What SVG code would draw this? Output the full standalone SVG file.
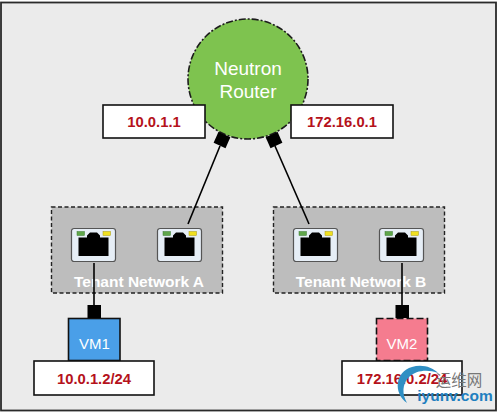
<svg xmlns="http://www.w3.org/2000/svg" width="498" height="412" viewBox="0 0 498 412">
<style>
text{font-family:"Liberation Sans",Arial,sans-serif;text-anchor:middle}
.lb{fill:#fff;stroke:#111;stroke-width:1.6}
.ip{fill:#b5121b;font-size:14.8px;font-weight:700}
.wt{fill:#fff}
.net{fill:#bdbdbd;stroke:#222;stroke-width:1.4;stroke-dasharray:4 2.5}
.conn{stroke:#000;stroke-width:1.6;fill:none}
.jack{fill:#000}
</style>
<defs>
<g id="port">
<rect x="0.5" y="0.5" width="44" height="33" rx="2.5" fill="#e6eef6" stroke="#555" stroke-width="1.2"/>
<rect x="6" y="3.500" width="7.500" height="4" fill="#5fa64a" stroke="#3d7a33" stroke-width=".5"/>
<rect x="32" y="3.500" width="7.500" height="4" fill="#f0e020" stroke="#a89a10" stroke-width=".5"/>
<path class="jack" d="M7.500 9.500H16V7.500L19 4.500H26L29 7.500V9.500H37.500V28H7.500Z"/>
</g>
</defs>
<rect x="1" y="2.500" width="495" height="408" fill="#ebebeb" stroke="#2a2a2a" stroke-width="1.800"/>
<g id="router">
<circle cx="248" cy="79" r="60" fill="#7ec34f" stroke="#1c1c1c" stroke-width="1.600" stroke-dasharray="7 2 2 2"/>
<text class="wt" x="248" y="75" font-size="19">Neutron</text>
<text class="wt" x="248" y="98" font-size="19">Router</text>
</g>
<g id="ip-router-a">
<rect class="lb" x="103" y="105" width="102" height="33"/>
<text class="ip" x="154" y="127">10.0.1.1</text>
</g>
<g id="ip-router-b">
<rect class="lb" x="291" y="105" width="102" height="33"/>
<text class="ip" x="342" y="127">172.16.0.1</text>
</g>
<g id="network-a">
<rect class="net" x="51.500" y="207" width="171" height="86"/>
<use href="#port" x="71" y="228"/>
<use href="#port" x="157" y="228"/>
<text class="wt" x="139" y="287" font-size="15.500" font-weight="700">Tenant Network A</text>
</g>
<g id="network-b">
<rect class="net" x="273.500" y="207" width="171" height="86"/>
<use href="#port" x="293" y="228"/>
<use href="#port" x="379" y="228"/>
<text class="wt" x="361" y="287" font-size="15.500" font-weight="700">Tenant Network B</text>
</g>
<g id="vm1">
<rect x="68.500" y="318.500" width="51.500" height="42" fill="#4a9fe8" stroke="#111" stroke-width="1.600"/>
<text class="wt" x="94.500" y="349" font-size="15">VM1</text>
</g>
<g id="vm2">
<rect x="376.500" y="318.500" width="51" height="42" fill="#f57c8f" stroke="#111" stroke-width="1.600" stroke-dasharray="7 3"/>
<text class="wt" x="402" y="349" font-size="15">VM2</text>
</g>
<g id="connectors">
<path class="conn" d="M188 224L220 146"/>
<path class="conn" d="M309 224L275 146"/>
<path class="conn" d="M94 263V306"/>
<path class="conn" d="M402 263V306"/>
<rect x="-6.500" y="-6" width="13" height="12" fill="#000" transform="translate(222 140) rotate(24)"/>
<rect x="-6.500" y="-6" width="13" height="12" fill="#000" transform="translate(274 140) rotate(-24)"/>
<rect x="87.500" y="305" width="13.500" height="13" fill="#000"/>
<rect x="395.500" y="305" width="13.500" height="13" fill="#000"/>
</g>
<g id="ip-vm1">
<rect class="lb" x="34" y="361" width="120" height="34"/>
<text class="ip" x="94" y="384">10.0.1.2/24</text>
</g>
<g id="ip-vm2">
<rect class="lb" x="342" y="361" width="120" height="34"/>
<text class="ip" x="402" y="384">172.16.0.2/24</text>
</g>
<g id="watermark">
<path d="M407 403C393 393 395 372 412 367C422 364 432 367 438 373C428 369 416 370 409 377C402 384 402 394 407 403Z" fill="#2f8fc4"/>
<text x="459" y="386" font-size="15.500" fill="#777" style="font-family:'Noto Sans CJK SC',sans-serif">运维网</text>
<text x="455" y="401" font-size="15.500" font-weight="700" fill="#1f7fc0">iyunv.com</text>
</g>
</svg>
